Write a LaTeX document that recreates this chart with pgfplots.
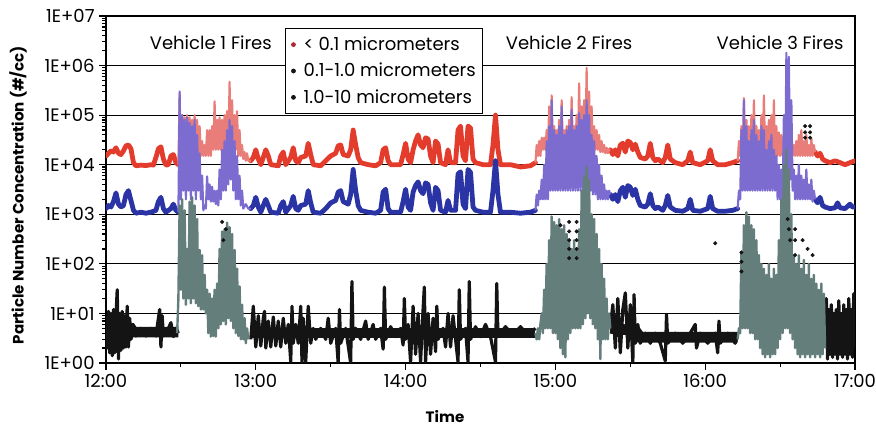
\documentclass[border=0pt]{standalone}
\usepackage{fontspec}
\setmainfont{Poppins}
\usepackage{pgfplots}
\pgfplotsset{compat=1.18}

\definecolor{pnred}{RGB}{228,60,44}
\definecolor{pnredfire}{RGB}{233,125,122}
\definecolor{pnblue}{RGB}{42,52,165}
\definecolor{pnpurple}{RGB}{124,108,208}
\definecolor{pnblack}{RGB}{20,20,20}
\definecolor{pngrey}{RGB}{100,126,124}
\definecolor{legred}{RGB}{176,40,52}

\pgfplotsset{
  redline/.style={pnred, line width=3.6pt, line join=round, line cap=round, forget plot},
  redfire/.style={pnredfire, line width=1.6pt, line join=round, forget plot},
  blueline/.style={pnblue, line width=3.6pt, line join=round, line cap=round, forget plot},
  bluefire/.style={pnpurple, line width=1.6pt, line join=round, forget plot},
  blackcore/.style={pnblack, line width=8pt, forget plot},
  blackline/.style={pnblack, line width=2.4pt, line join=round, forget plot},
  greyfire/.style={pngrey, line width=1.8pt, line join=round, forget plot},
  legdot/.style={legend image code/.code={\path[draw=none, fill=none] (0,-0.05cm) rectangle (0.3cm,0.05cm); \fill[#1, draw=none] (0.1cm,0cm) circle (1.8pt);}},
}

\begin{document}
\begin{tikzpicture}
\begin{axis}[
  scale only axis, width=561.75pt, height=260.25pt,
  xmin=0, xmax=300, ymin=1, ymax=1e7, ymode=log,
  xtick={0,60,120,180,240,300},
  xticklabels={12:00,13:00,14:00,15:00,16:00,17:00},
  minor xtick={30,90,150,210,270},
  ytick={1,10,100,1000,1e4,1e5,1e6,1e7},
  yticklabels={1E+00,1E+01,1E+02,1E+03,1E+04,1E+05,1E+06,1E+07},
  minor ytick={2,3,4,5,6,7,8,9,20,30,40,50,60,70,80,90,200,300,400,500,600,700,800,900,
    2000,3000,4000,5000,6000,7000,8000,9000,2e4,3e4,4e4,5e4,6e4,7e4,8e4,9e4,
    2e5,3e5,4e5,5e5,6e5,7e5,8e5,9e5,2e6,3e6,4e6,5e6,6e6,7e6,8e6,9e6},
  ymajorgrids, major grid style={black, line width=0.9pt},
  axis line style={line width=1.4pt},
  tick style={black, line width=0.9pt},
  major tick length=5pt, minor tick length=3pt,
  tick align=outside, xtick pos=bottom, ytick pos=left,
  ticklabel style={font=\fontsize{13.5}{15}\selectfont},
  /pgf/number format/assume math mode=true,
  xlabel={Time}, ylabel={Particle Number Concentration (\#/cc)},
  label style={font=\bfseries\fontsize{11.3}{13}\selectfont},
  xlabel style={at={(axis description cs:0.4526,-0.155)}, anchor=center},
  ylabel style={at={(axis description cs:-0.1175,0.484)}, anchor=center},
  legend style={at={(rel axis cs:0.239,0.965)}, anchor=north west, draw=black,
    line width=1pt, fill=white, font=\fontsize{13.5}{15}\selectfont,
    row sep=4pt, inner xsep=3pt, inner ysep=4pt},
  legend cell align=left,
]
% --- < 0.1 micrometers
\addplot[redline] coordinates {(0,1.5e4)(1,1.7e4)(2,1.9e4)(3,1.8e4)(4,2.2e4)(5,1.7e4)(6,1.6e4)(7,1.9e4)(8,2.4e4)(9,2.5e4)(10,2.1e4)(11,1.1e4)(12,9.5e3)(14,9.8e3)(16,9.6e3)(18,1e4)(19,9.8e3)(20,1.4e4)(21,2.1e4)(22,2.3e4)(23,1.3e4)(24,9.8e3)(25,1e4)(26,1.5e4)(27,1.6e4)(28,1.1e4)(29,1e4)};
\addplot[redline] coordinates {(58,1.2e4)(59,1.4e4)(60,2e4)(61,1.3e4)(62,1e4)(63,1.4e4)(64,2e4)(65,1.5e4)(66,1e4)(69,9.5e3)(70,1.5e4)(71,1.8e4)(72,1e4)(74,1.4e4)(75,2.2e4)(76,1.2e4)(77,1.1e4)(78,1.4e4)(80,1.5e4)(81,2.7e4)(82,1.6e4)(83,1e4)(86,9.5e3)(88,1.2e4)(90,1.5e4)(92,1.7e4)(93,2.4e4)(94,2.5e4)(95,1.6e4)(97,1.5e4)(98,2e4)(99,5e4)(100,2.5e4)(101,1.4e4)(102,1.1e4)(105,1e4)(108,9.5e3)(110,1.1e4)(111,2e4)(112,2.2e4)(113,1.2e4)(114,1e4)(118,1e4)(119,1.6e4)(120,2.7e4)(121,1.3e4)(122,1.1e4)(123,2e4)(124,3e4)(125,4e4)(126,2.5e4)(127,2.2e4)(128,3.5e4)(129,3.3e4)(130,1.5e4)(131,1.1e4)(132,3e4)(133,2.6e4)(134,1.1e4)(136,1e4)(137,2e4)(138,1.1e4)(140,1.1e4)(141,5e4)(142,6e4)(143,1.5e4)(144,1.2e4)(145,6e4)(146,5.5e4)(147,1.3e4)(148,1.1e4)(151,1e4)(154,1e4)(155,2.5e4)(156,1e5)(157,2e4)(158,1e4)(162,1e4)(166,9e3)(170,9.5e3)(172,1.1e4)};
\addplot[redline] coordinates {(202,2e4)(203,1.6e4)(204,2e4)(205,1.5e4)(206,2.5e4)(207,2.7e4)(208,1.8e4)(209,3e4)(210,2.8e4)(211,2e4)(212,2.6e4)(213,1.8e4)(214,1.4e4)(216,1.3e4)(217,1.5e4)(218,2.7e4)(219,1.4e4)(220,1.2e4)(221,1.3e4)(223,1.1e4)(224,1.4e4)(225,2.5e4)(226,1.3e4)(228,1.1e4)(231,1e4)(233,1.2e4)(234,1.8e4)(235,1.1e4)(238,1e4)(241,1.2e4)(242,2e4)(243,1.2e4)(245,1e4)(248,1e4)(251,1.1e4)(253,1.2e4)};
\addplot[redline] coordinates {(284,1.8e4)(285,1.5e4)(286,1.7e4)(287,1.3e4)(288,1.2e4)(290,1.1e4)(292,1.2e4)(294,1.1e4)(296,1e4)(298,1.1e4)(300,1.2e4)};
\addplot[redfire] coordinates {(29,1e4)(29.5,2.8e5)(30,1.5e4)(30.5,1e5)(31,1.5e4)(31.5,9e4)(32,1.5e4)(32.5,1e5)(33,1.5e4)(33.5,9e4)(34,1.5e4)(34.5,8e4)(35,1.5e4)(35.5,1e5)(36,1.5e4)(36.5,8e4)(37,1.5e4)(37.5,6e4)(38,1.5e4)(38.5,3e4)(39,1.5e4)(39.5,2.5e4)(40,1.5e4)(40.5,5e4)(41,1.5e4)(41.5,5e4)(42,1.5e4)(42.5,6e4)(43,2e4)(43.5,1.9e5)(44,2e4)(44.5,8e4)(45,2e4)(45.5,9e4)(46,2e4)(46.5,8e4)(47,2e4)(47.5,1e5)(48,2e4)(48.5,1.2e5)(49,2e4)(49.5,4.7e5)(50,2e4)(50.5,2e5)(51,2e4)(51.5,1e5)(52,2e4)(52.5,1.2e5)(53,1.5e4)(53.5,5e4)(54,1.5e4)(54.5,2.5e4)(55,1.3e4)(55.5,1.8e4)(56,1.2e4)(56.5,1.7e4)(57,1.2e4)(58,1.2e4)};
\addplot[redfire] coordinates {(172,1.1e4)(172.5,2.5e4)(173,1.5e4)(173.5,3e4)(174,1.5e4)(174.5,3.5e4)(175,2e4)(175.5,3.5e4)(176,2e4)(176.5,5e4)(177,2e4)(177.5,1.5e5)(178,2e4)(178.5,2.5e5)(179,2e4)(179.5,6e4)(180,2e4)(180.5,5e4)(181,2e4)(181.5,8e4)(182,2e4)(182.5,2e5)(183,2e4)(183.5,5e4)(184,2e4)(184.5,6e4)(185,2e4)(185.5,8e4)(186,2e4)(186.5,2.3e5)(187,2e4)(187.5,6e4)(188,2e4)(188.5,1e5)(189,2e4)(189.5,4.4e5)(190,2e4)(190.5,1.5e5)(191,2e4)(191.5,2e5)(192,2e4)(192.5,9e5)(193,2e4)(193.5,3e5)(194,2e4)(194.5,1.5e5)(195,2e4)(195.5,6e4)(196,2e4)(196.5,5e4)(197,2e4)(197.5,4e4)(198,1.8e4)(198.5,3e4)(199,1.8e4)(199.5,2.5e4)(200,1.7e4)(200.5,2.2e4)(201,1.7e4)(201.5,2e4)(202,2e4)};
\addplot[redfire] coordinates {(253,1.2e4)(253.5,3e4)(254,1.5e4)(254.5,6e4)(255,1.5e4)(255.5,2.2e5)(256,1.5e4)(256.5,8e4)(257,1.5e4)(257.5,6e4)(258,1.5e4)(258.5,1e5)(259,1.5e4)(259.5,2e5)(260,1.5e4)(260.5,6e4)(261,1.5e4)(261.5,5e4)(262,1.5e4)(262.5,1e5)(263,1.5e4)(263.5,2.5e5)(264,1.5e4)(264.5,6e4)(265,1.5e4)(265.5,8e4)(266,1.5e4)(266.5,1e5)(267,1.5e4)(267.5,2e5)(268,1.5e4)(268.5,6e4)(269,1.5e4)(269.5,4.5e4)(270,1.5e4)(270.5,4e4)(271,1.5e4)(271.5,3e4)(272,1.5e4)(272.5,5e4)(273,1.5e4)(273.5,6e4)(274,1.5e4)(274.5,4e4)(275,1.5e4)(275.5,2.5e4)(276,1.5e4)(276.5,3e4)(277,1.5e4)(277.5,4e4)(278,1.5e4)(278.5,5e4)(279,1.5e4)(279.5,3e4)(280,1.5e4)(280.5,4e4)(281,1.5e4)(281.5,2.5e4)(282,1.5e4)(282.5,3.5e4)(283,1.5e4)(283.5,2.5e4)(284,1.8e4)};
% --- 0.1-1.0 micrometers
\addplot[blueline] coordinates {(0,1.3e3)(1,1.5e3)(2,1.4e3)(3,1.8e3)(4,2.7e3)(5,1.6e3)(6,1.4e3)(7,1.5e3)(8,2.5e3)(9,3e3)(10,1.9e3)(11,1.2e3)(12,1.05e3)(14,1.1e3)(16,1.05e3)(18,1.1e3)(20,1.2e3)(21,1.8e3)(22,2.2e3)(23,1.3e3)(24,1.1e3)(26,1.3e3)(27,1.6e3)(28,1.2e3)(29,1.1e3)};
\addplot[blueline] coordinates {(58,1.3e3)(59,1.5e3)(60,2.2e3)(61,1.4e3)(62,1.1e3)(63,1.5e3)(64,2e3)(65,1.5e3)(66,1.1e3)(69,1.05e3)(70,1.5e3)(71,1.8e3)(72,1.1e3)(74,1.5e3)(75,2.3e3)(76,1.3e3)(77,1.2e3)(78,1.5e3)(80,1.6e3)(81,3e3)(82,1.7e3)(83,1.1e3)(86,1.05e3)(88,1.3e3)(90,1.7e3)(92,1.9e3)(93,2.8e3)(94,3e3)(95,1.8e3)(97,1.6e3)(98,2.5e3)(99,8e3)(100,3e3)(101,1.5e3)(102,1.2e3)(105,1.1e3)(108,1.05e3)(110,1.2e3)(111,2.8e3)(112,3.2e3)(113,1.3e3)(114,1.1e3)(118,1.1e3)(119,1.8e3)(120,3.2e3)(121,1.4e3)(122,1.2e3)(123,2.8e3)(124,3.8e3)(125,4.5e3)(126,3e3)(127,2.6e3)(128,4.3e3)(129,4e3)(130,1.7e3)(131,1.2e3)(132,3.5e3)(133,3e3)(134,1.2e3)(136,1.1e3)(137,1.9e3)(138,1.2e3)(140,1.2e3)(141,6.5e3)(142,7.2e3)(143,1.6e3)(144,1.3e3)(145,8e3)(146,7e3)(147,1.4e3)(148,1.2e3)(151,1.1e3)(154,1.1e3)(155,3e3)(156,1.2e4)(157,2.5e3)(158,1.1e3)(162,1.1e3)(166,1.05e3)(170,1.1e3)(172,1.2e3)};
\addplot[blueline] coordinates {(202,2.5e3)(203,2e3)(204,2.5e3)(205,1.8e3)(206,3e3)(207,3.5e3)(208,2.2e3)(209,3.8e3)(210,3.5e3)(211,2.4e3)(212,3.2e3)(213,2e3)(214,1.5e3)(216,1.4e3)(217,1.6e3)(218,2.6e3)(219,1.5e3)(220,1.3e3)(221,1.4e3)(223,1.2e3)(224,1.5e3)(225,2.4e3)(226,1.4e3)(228,1.2e3)(231,1.15e3)(233,1.3e3)(234,2e3)(235,1.2e3)(238,1.15e3)(241,1.3e3)(242,2.3e3)(243,1.3e3)(245,1.15e3)(248,1.15e3)(251,1.2e3)(253,1.3e3)};
\addplot[blueline] coordinates {(284,2e3)(285,1.7e3)(286,2.2e3)(287,1.5e3)(288,1.4e3)(290,1.3e3)(292,1.35e3)(293,1.7e3)(294,1.35e3)(296,1.3e3)(298,1.6e3)(299,1.4e3)(300,1.4e3)};
\addplot[bluefire] coordinates {(29,1.1e3)(29.5,3e5)(30,2e3)(30.5,1e5)(31,3e3)(31.5,8e4)(32,2e3)(32.5,9e4)(33,3e3)(33.5,7e4)(34,2e3)(34.5,6e4)(35,3e3)(35.5,8e4)(36,2e3)(36.5,4e4)(37,3e3)(37.5,1.7e4)(38,2e3)(38.5,6e3)(39,1.2e3)(39.5,1.5e3)(40,1.3e3)(40.5,5.8e3)(41,2e3)(41.5,4e3)(42,1.8e3)(42.5,3.6e3)(43,1.8e3)(43.5,3e3)(44,1.6e3)(44.5,3e3)(45,1.5e3)(45.5,8e3)(46,2e3)(46.5,2e4)(47,3e3)(47.5,3e4)(48,3e3)(48.5,5e4)(49,4e3)(49.5,8e4)(50,5e3)(50.5,6e4)(51,3e3)(51.5,3e4)(52,2e3)(52.5,1.5e4)(53,2e3)(53.5,6e3)(54,1.5e3)(54.5,3e3)(55,1.3e3)(56,1.6e3)(57,1.3e3)(58,1.3e3)};
\addplot[bluefire] coordinates {(172,1.2e3)(172.5,2.5e3)(173,1.5e3)(173.5,3e3)(174,2e3)(174.5,5e3)(175,2e3)(175.5,1e4)(176,2e3)(176.5,3e4)(177,2e3)(177.5,6e4)(178,3e3)(178.5,2e5)(179,3e3)(179.5,5e4)(180,3e3)(180.5,4e4)(181,3e3)(181.5,6e4)(182,3e3)(182.5,1.5e5)(183,3e3)(183.5,4e4)(184,3e3)(184.5,5e4)(185,3e3)(185.5,6e4)(186,3e3)(186.5,1.3e5)(187,3e3)(187.5,5e4)(188,3e3)(188.5,6e4)(189,3e3)(189.5,1.1e5)(190,3e3)(190.5,8e4)(191,3e3)(191.5,1e5)(192,3e3)(192.5,2e5)(193,3e3)(193.5,1e5)(194,3e3)(194.5,4e4)(195,2.5e3)(195.5,3e4)(196,2.5e3)(196.5,1.5e4)(197,2e3)(197.5,1e4)(198,2e3)(198.5,6e3)(199,2e3)(199.5,4e3)(200,2e3)(200.5,3e3)(201,2e3)(201.5,3e3)(202,2.5e3)};
\addplot[bluefire] coordinates {(253,1.3e3)(253.5,3e3)(254,2e3)(254.5,5e4)(255,3e3)(255.5,2e5)(256,3e3)(256.5,6e4)(257,3e3)(257.5,3e4)(258,3e3)(258.5,5e4)(259,3e3)(259.5,8e4)(260,3e3)(260.5,4e4)(261,3e3)(261.5,3e4)(262,3e3)(262.5,6e4)(263,3e3)(263.5,5e4)(264,3e3)(264.5,2e4)(265,3e3)(265.5,3e4)(266,3e3)(266.5,4e4)(267,3e3)(267.5,2e4)(268,3e3)(268.5,1.5e4)(269,2e3)(269.5,1e4)(270,2e3)(270.5,8e3)(271,2e3)(271.5,1e5)(272,3e3)(272.5,1.8e6)(273,5e3)(273.5,1.5e6)(274,5e3)(274.5,2e5)(275,3e3)(275.5,8e3)(276,2e3)(276.5,6e3)(277,2e3)(277.5,1e4)(278,2e3)(278.5,6e3)(279,2e3)(279.5,5e3)(280,2e3)(280.5,8e3)(281,2e3)(281.5,4e3)(282,2e3)(282.5,5e3)(283,1.8e3)(283.5,3e3)(284,2e3)};
% --- 1.0-10 micrometers
\addplot[blackcore] coordinates {(0,5)(10,5)(11,4.2)(29,4.2)};
\addplot[blackcore] coordinates {(58,4)(172,4)};
\addplot[blackcore] coordinates {(202,5)(212,4.5)(214,3.3)(253,3.3)};
\addplot[blackcore] coordinates {(288,4)(300,4)};
\addplot[blackline] coordinates {(0,9)(0.5,2)(1,11)(1.5,1.6)(2,10)(2.5,1.4)(3,12)(3.5,1.6)(4,9)(4.5,30)(5,1.2)(5.5,10)(6,1.8)(6.5,11)(7,2)(7.5,9)(8,2.1)(8.5,14)(9,2.1)(9.5,8)(10,3)(11,5)(12,3.5)(14,5)(16,3.5)(18,5)(20,3.5)(21,8)(21.5,12)(22,2.1)(22.5,9)(23,3.5)(25,5)(26,6.5)(27,3.4)(28,5)(29,4)};
\addplot[blackline] coordinates {(58,3)(59,14)(60,2.1)(61,9)(62,2.2)(63,8)(63.5,11)(64,2)(65,7)(66,2.1)(67,8.5)(68,2.2)(69,7)(70,2.1)(71,8)(72,2.5)(73,6)(74,1.05)(74.5,14)(75,2.5)(76,6)(77,2.5)(78,14)(78.5,1.05)(79,8)(80,1.05)(81,14)(82,2.5)(83,5)(84,3)(86,5)(88,3)(89,8)(90,2.5)(92,5)(93,1)(93.5,12)(94,2.5)(96,5)(98,1)(98.5,44)(99,3)(100,5)(102,3)(104,7)(105,3)(107,6)(108,3)(110,5)(111,1.9)(111.5,34)(112,3)(114,5.4)(116,3.4)(118,5)(119,2.3)(119.5,20)(120,3)(121,6)(122,1.05)(123,14)(124,1.5)(125,10)(126,1.05)(127,12)(127.5,34)(128,1.05)(129,10)(130,1.5)(131,8)(132,1.7)(132.5,14)(133,3)(135,5)(136,2.1)(137,10)(138,2.1)(139,9)(140,3)(141,1.05)(141.5,30)(142,3)(144,5)(145,1.05)(145.5,44)(146,3)(148,5.4)(150,3.4)(152,6)(154,3.4)(156,1.05)(156.5,40)(157,3.4)(160,5.4)(163,3.6)(166,5.4)(169,3.6)(172,5)};
\addplot[blackline] coordinates {(202,5)(203,15)(204,2)(205,20)(206,1.6)(207,12)(208,26)(209,2)(210,15)(211,1)(211.5,24)(212,2.5)(213,6)(214,2.5)(216,4)(218,2.5)(220,4)(222,2.5)(224,1.1)(224.5,9.5)(225,2.5)(228,4)(231,2.5)(234,4)(236,6)(236.5,2)(238,4)(241,2.5)(244,4)(245,1.6)(245.5,7)(246,2.5)(249,4)(252,2.5)(253,4)};
\addplot[blackline] coordinates {(288,2)(288.5,20)(289,1.2)(289.5,12)(290,1.5)(290.5,15)(291,1.3)(291.5,10)(292,1.5)(292.5,12)(293,1.2)(293.5,18)(294,1.5)(294.5,10)(295,1.3)(295.5,15)(296,1.5)(296.5,12)(297,1.2)(297.5,20)(298,1.5)(298.5,12)(299,1.3)(299.5,25)(300,2)};
\addplot[greyfire] coordinates {(28.5,4)(29,20)(29.5,1.5e3)(30,30)(30.5,2e3)(31,20)(31.5,1.2e3)(32,15)(32.5,200)(33,20)(33.5,1.8e3)(34,16)(34.5,2.2e3)(35,20)(35.5,1.5e3)(36,16)(36.5,800)(37,14)(37.5,190)(38,12)(38.5,150)(39,12)(39.5,60)(40,10)(40.5,30)(41,4)(41.5,25)(42,3.4)(42.5,20)(43,3.5)(43.5,30)(44,3.4)(44.5,40)(45,5)(45.5,200)(46,6)(46.5,450)(47,7)(47.5,500)(48,6)(48.5,680)(49,8)(49.5,550)(50,7)(50.5,400)(51,5)(51.5,190)(52,4)(52.5,80)(53,3.5)(53.5,35)(54,3)(54.5,15)(55,3)(55.5,8)(56,2.5)(56.5,5)(57,3)};
\addplot[greyfire] coordinates {(172,4)(172.5,3)(173,5)(173.5,3)(174,6)(174.5,10)(175,4)(175.5,30)(176,5)(176.5,100)(177,5)(177.5,300)(178,5)(178.5,900)(179,4)(179.5,700)(180,4)(180.5,600)(181,3)(181.5,800)(182,2)(182.5,500)(183,1.5)(183.5,600)(184,1.3)(184.5,400)(185,3)(185.5,300)(186,4)(186.5,200)(187,5)(187.5,300)(188,5)(188.5,200)(189,5)(189.5,500)(190,5)(190.5,3e3)(191,6)(191.5,6e3)(192,8)(192.5,9e3)(193,10)(193.5,5e3)(194,8)(194.5,1e3)(195,6)(195.5,800)(196,5)(196.5,400)(197,3)(197.5,200)(198,1.2)(198.5,100)(199,3)(199.5,50)(200,3)(200.5,20)(201,3)(201.5,10)(202,5)};
\addplot[greyfire] coordinates {(253,3)(253.5,5)(254,4)(254.5,170)(255,5)(255.5,600)(256,5)(256.5,1.1e3)(257,5)(257.5,900)(258,4)(258.5,600)(259,4)(259.5,500)(260,3)(260.5,300)(261,3)(261.5,150)(262,2)(262.5,100)(263,1.5)(263.5,80)(264,1.3)(264.5,60)(265,1.5)(265.5,100)(266,1.3)(266.5,50)(267,1.5)(267.5,80)(268,1.5)(268.5,60)(269,2)(269.5,300)(270,3)(270.5,2e3)(271,4)(271.5,1e4)(272,5)(272.5,2e4)(273,5)(273.5,8e3)(274,4)(274.5,1e3)(275,3)(275.5,150)(276,2)(276.5,100)(277,1.5)(277.5,150)(278,1.3)(278.5,80)(279,1.5)(279.5,120)(280,1.3)(280.5,60)(281,1.5)(281.5,100)(282,1.3)(282.5,50)(283,1.5)(283.5,60)(284,1.3)(284.5,40)(285,1.5)(285.5,30)(286,1.3)(286.5,40)(287,1.5)(287.5,25)(288,2)};
\addplot[only marks, mark=*, mark size=1.3pt, pnblack, forget plot] coordinates {(46.5,700)(48,500)(47,300)(182,600)(185.5,700)(185.5,450)(185.5,300)(185.5,200)(185.5,130)(188.5,700)(188.5,450)(188.5,300)(188.5,200)(188.5,130)(244,260)(254.5,170)(254.5,110)(254.5,70)(273,800)(273.5,500)(274,300)(276,500)(276,300)(276,150)(279,300)(281,200)(283,150)(280,6e4)(280,4.5e4)(280,3.5e4)(282,6e4)(282,4.5e4)(282,3.5e4)};
% --- legend and labels
\addlegendimage{legdot=legred}
\addlegendentry{< 0.1 micrometers}
\addlegendimage{legdot=pnblack}
\addlegendentry{0.1-1.0 micrometers}
\addlegendimage{legdot=pnblack}
\addlegendentry{1.0-10 micrometers}
\node[font=\fontsize{13.5}{15}\selectfont] at (axis cs:42,2.86e6) {Vehicle 1 Fires};
\node[font=\fontsize{13.5}{15}\selectfont] at (axis cs:185.5,2.86e6) {Vehicle 2 Fires};
\node[font=\fontsize{13.5}{15}\selectfont] at (axis cs:270,2.86e6) {Vehicle 3 Fires};
\coordinate (bbl) at (rel axis cs:-0.1415,-0.190);
\coordinate (btr) at (rel axis cs:1.028,1.046);
\end{axis}
\pgfresetboundingbox
\path (bbl) rectangle (btr);
\end{tikzpicture}
\end{document}
